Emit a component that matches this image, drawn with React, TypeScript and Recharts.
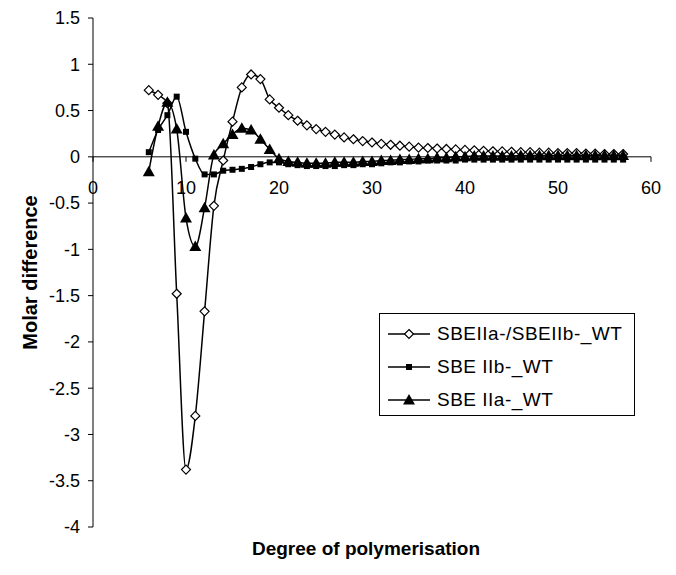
import React from "react";
import { LineChart, Line, XAxis, YAxis, ReferenceLine, Legend } from "recharts";

const DP = [
  6, 7, 8, 9, 10, 11, 12, 13, 14, 15, 16, 17, 18, 19, 20, 21, 22, 23, 24, 25, 26, 27, 28, 29, 30, 31,
  32, 33, 34, 35, 36, 37, 38, 39, 40, 41, 42, 43, 44, 45, 46, 47, 48, 49, 50, 51, 52, 53, 54, 55, 56, 57,
];

// SBEIIa-/SBEIIb-_WT (open diamonds)
const DOUBLE_WT = [
  0.72, 0.67, 0.58, -1.48, -3.38, -2.8, -1.67, -0.53, -0.04, 0.38, 0.75, 0.89, 0.84, 0.62, 0.53, 0.45,
  0.39, 0.34, 0.3, 0.27, 0.24, 0.21, 0.19, 0.17, 0.155, 0.14, 0.13, 0.12, 0.11, 0.1, 0.095, 0.09, 0.085,
  0.08, 0.075, 0.07, 0.065, 0.06, 0.058, 0.055, 0.05, 0.05, 0.045, 0.045, 0.04, 0.04, 0.04, 0.035, 0.035,
  0.03, 0.03, 0.03,
];

// SBE IIb-_WT (filled squares)
const IIB_WT = [
  0.05, 0.29, 0.45, 0.65, 0.27, -0.02, -0.19, -0.19, -0.15, -0.14, -0.13, -0.11, -0.08, -0.06, -0.06,
  -0.08, -0.09, -0.1, -0.1, -0.1, -0.1, -0.09, -0.09, -0.08, -0.08, -0.07, -0.06, -0.06, -0.05, -0.05,
  -0.04, -0.04, -0.04, -0.04, -0.03, -0.03, -0.03, -0.03, -0.03, -0.03, -0.03, -0.03, -0.03, -0.03, -0.03,
  -0.03, -0.03, -0.03, -0.03, -0.03, -0.03, -0.03,
];

// SBE IIa-_WT (filled triangles)
const IIA_WT = [
  -0.16, 0.33, 0.59, 0.3, -0.66, -0.97, -0.55, 0.02, 0.14, 0.24, 0.31, 0.29, 0.19, 0.08, -0.02, -0.05,
  -0.06, -0.07, -0.07, -0.07, -0.06, -0.06, -0.06, -0.05, -0.05, -0.04, -0.04, -0.03, -0.03, -0.02, -0.02,
  -0.01, -0.01, 0, 0, 0.01, 0.01, 0.01, 0.01, 0.01, 0.015, 0.015, 0.015, 0.015, 0.015, 0.015, 0.015, 0.015,
  0.015, 0.015, 0.015, 0.015,
];

const X_TICKS = [0, 10, 20, 30, 40, 50, 60];
const Y_TICKS = [-4, -3.5, -3, -2.5, -2, -1.5, -1, -0.5, 0, 0.5, 1, 1.5];
const Y_MIN = -4;
const Y_MAX = 1.5;

const rows = DP.map((x, i) => ({ x, d: DOUBLE_WT[i], s: IIB_WT[i], t: IIA_WT[i] }));

const FONT = "'Liberation Sans', Arial, sans-serif";
const W = 676;
const H = 575;
const MARGIN = { top: 18, right: 25, left: 0, bottom: 0 };
const X_AXIS_H = 48;
const PLOT_H = H - MARGIN.top - MARGIN.bottom - X_AXIS_H;
// the x axis crosses at y = 0, so its ticks sit on the zero line
const ZERO_Y = MARGIN.top + (PLOT_H * Y_MAX) / (Y_MAX - Y_MIN);

function Diamond({ cx, cy }: { cx: number; cy: number }) {
  const r = 4.5;
  return (
    <path
      d={`M${cx},${cy - r}L${cx + r},${cy}L${cx},${cy + r}L${cx - r},${cy}Z`}
      fill="#fff"
      stroke="#000"
      strokeWidth={1.2}
    />
  );
}

function Square({ cx, cy }: { cx: number; cy: number }) {
  return <rect x={cx - 3} y={cy - 3} width={6} height={6} fill="#000" />;
}

function Triangle({ cx, cy }: { cx: number; cy: number }) {
  return <path d={`M${cx},${cy - 6}L${cx + 6},${cy + 4.5}L${cx - 6},${cy + 4.5}Z`} fill="#000" />;
}

const SERIES = [
  { key: "d", name: "SBEIIa-/SBEIIb-_WT", Marker: Diamond },
  { key: "s", name: "SBE IIb-_WT", Marker: Square },
  { key: "t", name: "SBE IIa-_WT", Marker: Triangle },
];

function XTick(props: any) {
  const { x, payload } = props;
  return (
    <g>
      <line x1={x} x2={x} y1={ZERO_Y} y2={ZERO_Y + 5} stroke="#000" />
      <text x={x} y={ZERO_Y + 37} textAnchor="middle" fontSize={18} fontFamily={FONT} fill="#000">
        {payload.value}
      </text>
    </g>
  );
}

function LegendBox() {
  return (
    <div
      style={{
        width: 256,
        height: 103,
        border: "1px solid #000",
        boxSizing: "border-box",
        background: "#fff",
        fontFamily: FONT,
        fontSize: 19,
        letterSpacing: 0.5,
        color: "#000",
        paddingTop: 3,
      }}
    >
      {SERIES.map(({ key, name, Marker }) => (
        <div key={key} style={{ display: "flex", alignItems: "center", height: 33 }}>
          <svg width={42} height={20} style={{ marginLeft: 8 }}>
            <line x1={0} x2={42} y1={10} y2={10} stroke="#000" strokeWidth={1.5} />
            <Marker cx={21} cy={10} />
          </svg>
          <span style={{ marginLeft: 7, whiteSpace: "nowrap" }}>{name}</span>
        </div>
      ))}
    </div>
  );
}

export default function App() {
  return (
    <div style={{ position: "absolute", left: 0, top: 0, background: "#fff" }}>
      <LineChart width={W} height={H} data={rows} margin={MARGIN}>
        <XAxis
          dataKey="x"
          type="number"
          domain={[0, 60]}
          ticks={X_TICKS}
          interval={0}
          height={X_AXIS_H}
          axisLine={false}
          tickLine={false}
          tick={<XTick />}
          label={{
            value: "Degree of polymerisation",
            position: "insideBottom",
            offset: 20,
            dx: -6,
            style: { fontFamily: FONT, fontSize: 19, fontWeight: "bold", fill: "#000" },
          }}
        />
        <YAxis
          type="number"
          domain={[Y_MIN, Y_MAX]}
          ticks={Y_TICKS}
          interval={0}
          allowDataOverflow
          width={93}
          tickSize={5}
          tickMargin={8}
          axisLine={{ stroke: "#000" }}
          tickLine={{ stroke: "#000" }}
          tick={{ fontSize: 18, fontFamily: FONT, fill: "#000" }}
          label={{
            value: "Molar difference",
            angle: -90,
            position: "insideLeft",
            offset: 30,
            style: { textAnchor: "middle", fontFamily: FONT, fontSize: 20, fontWeight: "bold", fill: "#000" },
          }}
        />
        <ReferenceLine y={0} stroke="#000" strokeWidth={1} />
        {SERIES.map(({ key, name, Marker }) => (
          <Line
            key={key}
            dataKey={key}
            name={name}
            type="monotone"
            stroke="#000"
            strokeWidth={1.5}
            isAnimationActive={false}
            activeDot={false}
            dot={(p: any) => <Marker key={`${key}-${p.index}`} cx={p.cx} cy={p.cy} />}
          />
        ))}
        <Legend
          layout="vertical"
          align="center"
          verticalAlign="middle"
          content={() => <LegendBox />}
          wrapperStyle={{ left: 379, top: 313, width: 256, height: 103 }}
        />
      </LineChart>
    </div>
  );
}
